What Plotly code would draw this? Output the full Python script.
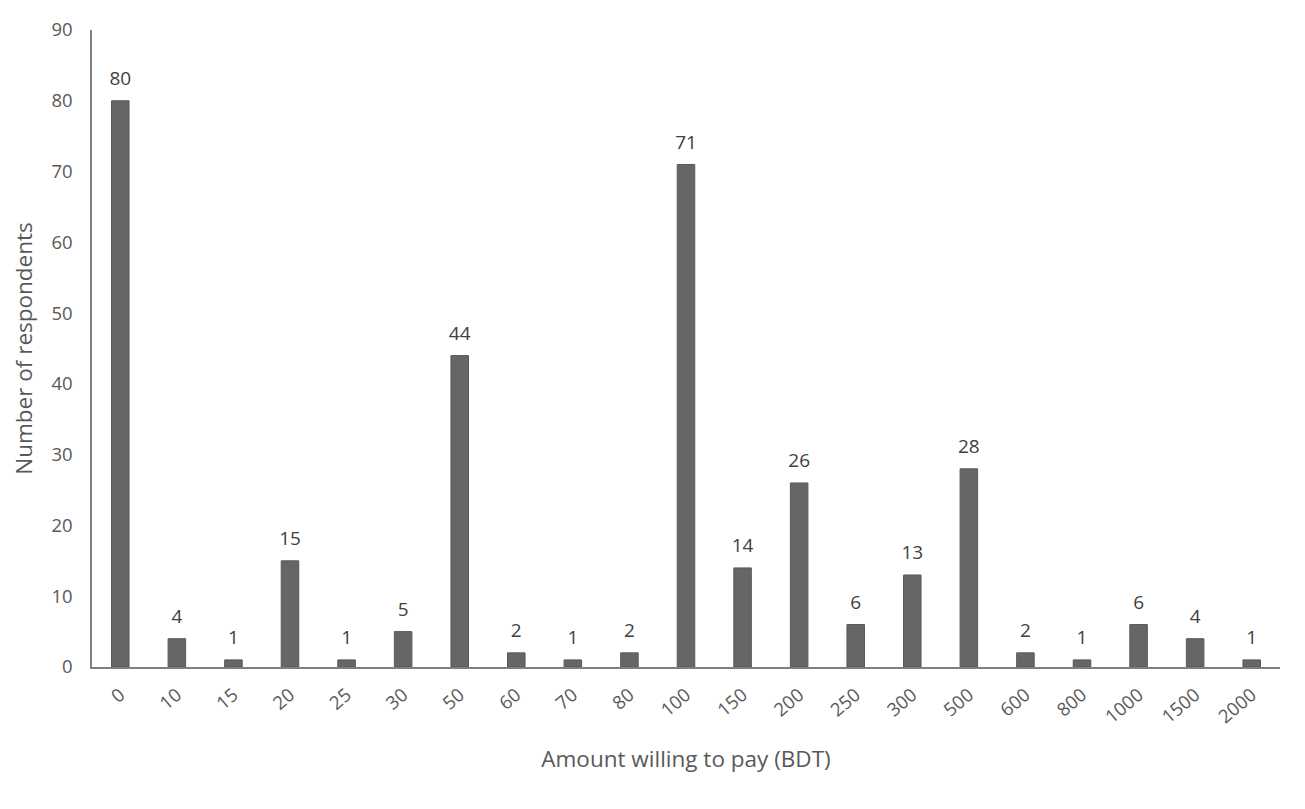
import plotly.graph_objects as go

# Amount willing to pay (BDT) and how many respondents picked each
amounts = ["0", "10", "15", "20", "25", "30", "50", "60", "70", "80", "100",
           "150", "200", "250", "300", "500", "600", "800", "1000", "1500", "2000"]
respondents = [80, 4, 1, 15, 1, 5, 44, 2, 1, 2, 71, 14, 26, 6, 13, 28, 2, 1, 6, 4, 1]

fig = go.Figure()
fig.add_trace(go.Bar(
    x=amounts,
    y=respondents,
    marker_color="#666666",
    marker_line_color="#595959",
    marker_line_width=1,
))

# value labels: text trace with an invisible marker to lift them off the bar tops
fig.add_trace(go.Scatter(
    x=amounts,
    y=respondents,
    mode="markers+text",
    text=[str(n) for n in respondents],
    textposition="top center",
    textfont=dict(size=19, color="#404040"),
    marker=dict(size=16, opacity=0),
    cliponaxis=False,
    hoverinfo="skip",
))

# page body adds an 8px offset, so margins are trimmed to suit
fig.update_layout(
    width=1305,
    height=809,
    margin=dict(l=84, r=33, t=22, b=150),
    plot_bgcolor="white",
    paper_bgcolor="white",
    bargap=0.69,
    font=dict(family="Open Sans, sans-serif", size=18, color="#595959"),
    showlegend=False,
    xaxis=dict(
        type="category",
        range=[-0.5, len(amounts) - 0.5],
        tickangle=-40,
        automargin=False,
        showline=True,
        linecolor="#7f7f7f",
        linewidth=2,
        ticks="",
        ticklabelstandoff=8,
        tickfont=dict(size=18.5, color="#595959"),
        title=dict(text="Amount willing to pay (BDT)", font=dict(size=22.5, color="#595959"), standoff=24),
    ),
    yaxis=dict(
        range=[0, 90],
        dtick=10,
        automargin=False,
        showgrid=False,
        showline=True,
        linecolor="#7f7f7f",
        linewidth=1.5,
        ticks="",
        ticklabelstandoff=14,
        zeroline=False,
        tickfont=dict(size=18.5, color="#595959"),
        title=dict(text="Number of respondents", font=dict(size=22.5, color="#595959"), standoff=16),
    ),
)

fig.write_html("out.html")
